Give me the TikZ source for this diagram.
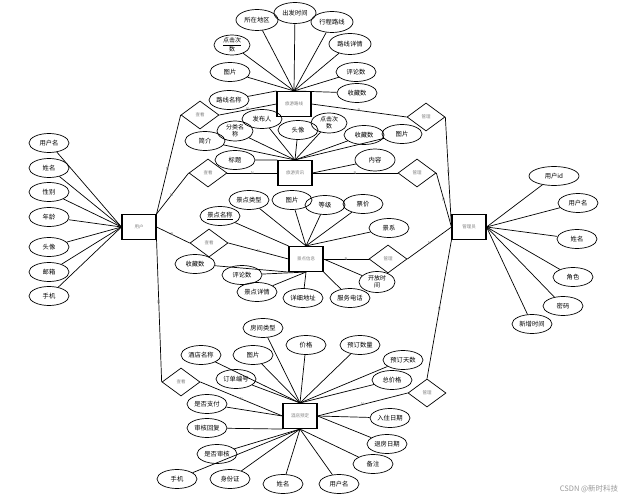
\documentclass[tikz,border=0pt]{standalone}
\usepackage{fontspec}
\setmainfont{Noto Sans CJK SC}
\usetikzlibrary{shapes.geometric}
\begin{document}
\begin{tikzpicture}[x=1pt,y=-1pt,
 attr/.style={ellipse,draw,line width=0.7pt,minimum width=40pt,minimum height=19pt,inner sep=0pt,align=center,font=\fontsize{6.3}{6.6}\selectfont},
 ent/.style={rectangle,draw,line width=1.1pt,minimum width=34pt,minimum height=25pt,inner sep=0pt,font=\fontsize{4.5}{5}\selectfont,text=gray},
 rel/.style={diamond,draw,line width=0.7pt,minimum width=38pt,minimum height=28pt,inner sep=0pt,font=\fontsize{4.5}{5}\selectfont,text=gray},
 lk/.style={line width=0.7pt},
 nl/.style={font=\fontsize{4}{4}\selectfont,text=gray,inner sep=0.5pt}]
\useasboundingbox (0,0) rectangle (637,500);

% entities
\node[ent] (user) at (139,227) {用户};
\node[ent] (route) at (294,104) {旅游路线};
\node[ent] (info) at (295,173) {旅游资讯};
\node[ent] (scenic) at (306,259) {景点信息};
\node[ent] (hotel) at (300,416) {酒店预定};
\node[ent] (admin) at (469,227) {管理员};

% relationships
\node[rel] (look1) at (200,115) {查看};
\node[rel] (look2) at (208,173) {查看};
\node[rel] (look3) at (209,243) {查看};
\node[rel] (look4) at (181,382) {查看};
\node[rel] (man1) at (426,117) {管理};
\node[rel] (man2) at (417,173) {管理};
\node[rel] (man3) at (388,259) {管理};
\node[rel] (man4) at (427,393) {管理};

% relationship connectors
\draw[lk] (user.north east) -- node[nl,pos=0.45]{N} (look1.west);
\draw[lk] (user.north east) -- node[nl,pos=0.47]{N} (look2.west);
\draw[lk] (user.east) -- node[nl,pos=0.47]{N} (look3.west);
\draw[lk] (user.south east) -- node[nl,pos=0.44]{N} (look4.west);
\draw[lk] (look1.east) -- node[nl]{N} (route.west);
\draw[lk] (look2.east) -- node[nl]{N} (info.west);
\draw[lk] (look3.east) -- node[nl]{N} (scenic.west);
\draw[lk] (look4.east) -- node[nl]{N} (hotel.west);
\draw[lk] (man1.west) -- node[nl]{N} (route.east);
\draw[lk] (man2.west) -- node[nl]{N} (info.east);
\draw[lk] (man3.west) -- node[nl]{N} (scenic.east);
\draw[lk] (man4.west) -- node[nl]{N} (hotel.east);
\draw[lk] (man1.east) -- node[nl]{N} (admin.west);
\draw[lk] (man2.east) -- node[nl]{N} (admin.west);
\draw[lk] (man3.east) -- node[nl]{N} (admin.west);
\draw[lk] (man4.north) -- node[nl]{N} (admin.south west);

% user attributes
\node[attr] (u1) at (49,143) {用户名};
\node[attr] (u2) at (49,168) {姓名};
\node[attr] (u3) at (49,192) {性别};
\node[attr] (u4) at (49,217) {年龄};
\node[attr] (u5) at (49,247) {头像};
\node[attr] (u6) at (49,272) {邮箱};
\node[attr] (u7) at (49,296) {手机};
\foreach \a in {u1,u2,u3,u4,u5,u6,u7} \draw[lk] (\a) -- (user.west);

% route attributes
\node[attr,minimum width=42pt,minimum height=21pt] (r1) at (257,20) {所在地区};
\node[attr,minimum width=42pt,minimum height=21pt] (r2) at (295,13) {出发时间};
\node[attr,minimum width=42pt,minimum height=21pt] (r3) at (332,22) {行程路线};
\node[attr,minimum width=42pt,minimum height=21pt] (r4) at (350,44) {路线详情};
\node[attr] (r5) at (356,72) {评论数};
\node[attr] (r6) at (357,93) {收藏数};
\node[attr] (r7) at (230,72) {图片};
\node[attr,minimum width=36pt,minimum height=20pt,font=\fontsize{6}{6.6}\selectfont] (r8) at (232,45) {\underline{点击次}\\数};
\node[attr] (r9) at (229,100) {路线名称};
\foreach \a in {r1,r2,r3,r4,r5,r6,r7,r8} \draw[lk] (\a) -- (route.north);
\draw[lk] (r9) -- (route.north west);

% info attributes
\node[attr] (i1) at (235,160) {标题};
\node[attr] (i2) at (205,141) {简介};
\node[attr,minimum width=36pt,minimum height=20pt,font=\fontsize{6}{6.6}\selectfont] (i3) at (235,131) {分类名\\称};
\node[attr] (i4) at (262,119) {发布人};
\node[attr] (i5) at (298,130) {头像};
\node[attr,minimum width=36pt,minimum height=20pt,font=\fontsize{6}{6.6}\selectfont] (i6) at (329,123) {点击次\\数};
\node[attr] (i7) at (364,135) {收藏数};
\node[attr] (i8) at (402,134) {图片};
\node[attr,minimum height=22pt] (i9) at (375,160) {内容};
\foreach \a in {i2,i3,i4,i5,i6,i7,i8} \draw[lk] (\a) -- (info.north);
\draw[lk] (i1) -- (info.north west);
\draw[lk] (i9) -- (info.east);

% scenic attributes
\node[attr] (s1) at (220,216) {\underline{景点名称}};
\node[attr] (s2) at (249,200) {景点类型};
\node[attr] (s3) at (292,200) {图片};
\node[attr] (s4) at (325,205) {等级};
\node[attr] (s5) at (363,204) {票价};
\node[attr] (s6) at (389,228) {景系};
\node[attr,minimum width=36pt,minimum height=21pt,font=\fontsize{6}{6.6}\selectfont] (s7) at (377,282) {开放时\\间};
\node[attr] (s8) at (350,298) {服务电话};
\node[attr] (s9) at (303,298) {详细地址};
\node[attr] (s10) at (257,292) {景点详情};
\node[attr] (s11) at (242,275) {评论数};
\node[attr] (s12) at (195,264) {收藏数};
\foreach \a in {s2,s3,s4,s5,s6} \draw[lk] (\a) -- (scenic.north);
\draw[lk] (s1) -- (scenic.north west);
\draw[lk] (s7) -- (scenic.east);
\draw[lk] (s8) -- (scenic.south east);
\foreach \a in {s9,s10,s11} \draw[lk] (\a) -- (scenic.south);
\draw[lk] (s12) -- (scenic.south west);

% hotel attributes
\node[attr] (h1) at (263,328) {房间类型};
\node[attr] (h2) at (306,345) {价格};
\node[attr] (h3) at (360,345) {预订数量};
\node[attr] (h4) at (403,360) {预订天数};
\node[attr] (h5) at (392,380) {总价格};
\node[attr] (h6) at (390,418) {入住日期};
\node[attr] (h7) at (387,444) {退房日期};
\node[attr] (h8) at (373,464) {备注};
\node[attr] (h9) at (339,484) {用户名};
\node[attr] (h10) at (283,484) {姓名};
\node[attr] (h11) at (230,479) {身份证};
\node[attr] (h12) at (177,479) {手机};
\node[attr] (h13) at (217,454) {是否审核};
\node[attr] (h14) at (207,428) {审核回复};
\node[attr] (h15) at (207,404) {是否支付};
\node[attr] (h16) at (236,379) {订单编号};
\node[attr] (h17) at (201,355) {酒店名称};
\node[attr] (h18) at (253,355) {图片};
\foreach \a in {h1,h2,h3,h4,h5,h16,h17,h18} \draw[lk] (\a) -- (hotel.north);
\draw[lk] (h6) -- (hotel.east);
\draw[lk] (h7) -- (hotel.east);
\foreach \a in {h8,h9,h10,h11,h12,h13} \draw[lk] (\a) -- (hotel.south);
\draw[lk] (h14) -- (hotel.south west);
\draw[lk] (h15) -- (hotel.west);

% admin attributes
\node[attr,minimum width=50pt] (a1) at (554,176) {用户id};
\node[attr] (a2) at (578,203) {用户名};
\node[attr] (a3) at (577,239) {姓名};
\node[attr] (a4) at (573,277) {角色};
\node[attr] (a5) at (563,306) {密码};
\node[attr] (a6) at (532,324) {新增时间};
\foreach \a in {a1,a2,a3,a4,a5,a6} \draw[lk] (\a) -- (admin.east);

% watermark
\node[font=\fontsize{7.5}{8}\selectfont,text=gray!80] (wm) at (589,489) {CSDN @新时科技};
\end{tikzpicture}
\end{document}
